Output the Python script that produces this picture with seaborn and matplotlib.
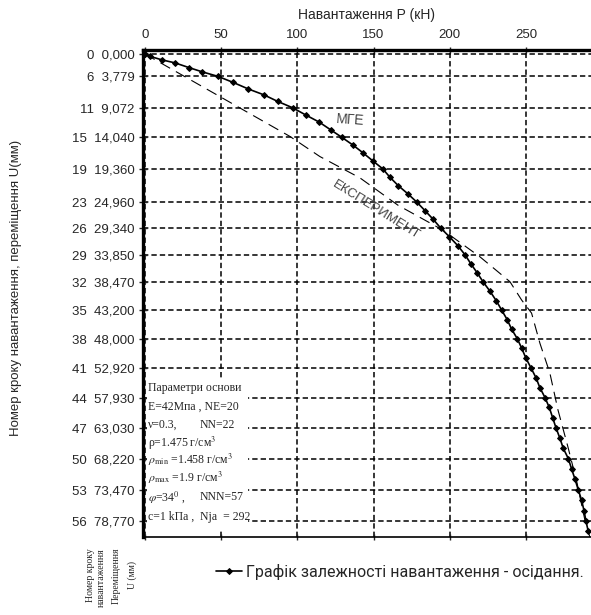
import matplotlib
matplotlib.use('Agg')
import pandas as pd
import matplotlib.pyplot as plt
import seaborn as sns
from matplotlib.patches import Rectangle

sns.set_style('white')
plt.rcParams['font.family'] = ['Liberation Sans', 'DejaVu Sans']
plt.rcParams['mathtext.fontset'] = 'stix'

# Load step numbers and displacement U (mm) shown on the vertical axis
tick_steps = [0, 6, 11, 15, 19, 23, 26, 29, 32, 35, 38, 41, 44, 47, 50, 53, 56]
tick_u = [0.0, 3.779, 9.072, 14.04, 19.36, 24.96, 29.34, 33.85, 38.47, 43.2,
          48.0, 52.92, 57.93, 63.03, 68.22, 73.47, 78.77]
tick_text = ['0,000', '3,779', '9,072', '14,040', '19,360', '24,960', '29,340',
             '33,850', '38,470', '43,200', '48,000', '52,920', '57,930',
             '63,030', '68,220', '73,470', '78,770']
load_ticks = [0, 50, 100, 150, 200, 250]

# MGE curve, one point per load step
mge_p = [0, 3.3, 11.2, 19.7, 28.9, 37.4, 47.9, 57.9, 67.8, 78.1, 87.1, 96.9,
         105.6, 114.4, 121.9, 129.1, 136.7, 143.2, 149.4, 156.0, 160.8, 166.2,
         172.6, 178.3, 183.7, 189.2, 194.0, 199.7, 205.2, 210.0, 213.9, 218.0,
         222.0, 226.4, 230.5, 234.1, 237.7, 240.6, 244.3, 247.2, 250.0, 253.3,
         256.6, 259.2, 262.5, 265.3, 267.5, 269.7, 272.3, 274.5, 277.8, 280.0,
         282.2, 284.3, 286.5, 288.1, 289.4, 290.9]
mge_u = [0, 0.4, 1.0, 1.5, 2.3, 3.0, 3.779, 4.8, 5.9, 6.9, 8.0, 9.072,
         10.3, 11.5, 12.8, 14.04, 15.4, 16.7, 18.0, 19.36, 20.8, 22.2,
         23.6, 24.96, 26.4, 27.9, 29.34, 30.8, 32.3, 33.85, 35.4, 36.9,
         38.47, 40.0, 41.6, 43.2, 44.8, 46.4, 48.0, 49.6, 51.3, 52.92,
         54.6, 56.3, 57.93, 59.6, 61.3, 63.03, 64.8, 66.5, 68.22, 70.0,
         71.7, 73.47, 75.2, 77.0, 78.77, 80.5]

# experiment curve (dashed)
exp_p = [0, 95.1, 114.8, 141.1, 166.0, 195.5, 219.8, 239.5, 247.2, 253.7,
         259.2, 265.7, 271.0, 277.6, 283.5, 288.7, 292.0]
exp_u = [0, 13.9, 17.3, 20.9, 25.5, 29.7, 34.2, 38.4, 41.5, 43.7,
         48.8, 53.8, 60.0, 66.3, 72.3, 78.6, 81.5]

mge = pd.DataFrame({'P': mge_p, 'U': mge_u})
exp = pd.DataFrame({'P': exp_p, 'U': exp_u})

fig = plt.figure(figsize=(5.91, 6.15), dpi=100)
ax = fig.add_axes([143 / 591, 1 - 537 / 615, 448 / 591, 487 / 615])

sns.lineplot(data=exp, x='P', y='U', sort=False, estimator=None, ax=ax,
             color='black', linewidth=0.8, linestyle=(0, (10, 6)))
sns.lineplot(data=mge, x='P', y='U', sort=False, estimator=None, ax=ax,
             color='black', linewidth=1.2, marker='D', markersize=3,
             markeredgecolor='black',
             label='Графік залежності навантаження - осідання.')

ax.set_xlim(-1.3, 292.7)
ax.set_ylim(81.45, -0.67)
ax.set_xlabel('')
ax.set_ylabel('')

ax.set_xticks(load_ticks)
ax.set_yticks(tick_u)
ax.set_yticklabels([f'{s}  {t}' for s, t in zip(tick_steps, tick_text)])
ax.tick_params(axis='x', top=True, bottom=True, labeltop=True, labelbottom=False,
               direction='inout', length=5, width=1, labelsize=9.5, pad=4)
ax.tick_params(axis='y', left=True, direction='inout', length=6, width=1,
               labelsize=9.5, pad=3)

ax.set_axisbelow(True)
ax.grid(True, color='black', linestyle=(0, (3.5, 2)), linewidth=1.1)

for side in ['left', 'top']:
    ax.spines[side].set_linewidth(2.4)
    ax.spines[side].set_color('black')
ax.spines['bottom'].set_linewidth(1.2)
ax.spines['bottom'].set_color('black')
ax.spines['right'].set_visible(False)

# white panel with soil parameters
ax.add_patch(Rectangle((1.5, 54.6), 66, 25.5, facecolor='white',
                       edgecolor='none', zorder=1.5))
serif = ['Liberation Serif', 'DejaVu Serif']
params_left = ['Параметри основи', 'E=42Мпа , NE=20', 'ν=0.3,', 'ρ=1.475 г/см$^3$',
               r'$\rho_{\min}$ =1.458 г/см$^3$', r'$\rho_{\max}$ =1.9 г/см$^3$',
               r'$\varphi$=34$^0$ ,', 'c=1 kПа ,']
params_right = ['', '', 'NN=22', '', '', '', 'NNN=57', 'Nja  = 292']
params_u = [56.3, 59.4, 62.6, 65.6, 68.5, 71.5, 74.7, 78.1]
for left, right, u in zip(params_left, params_right, params_u):
    ax.text(2.0, u, left, family=serif, fontsize=8.5, va='center', ha='left', zorder=3)
    if right:
        ax.text(36.0, u, right, family=serif, fontsize=8.5, va='center',
                ha='left', zorder=3)

# curve labels
ax.text(135.0, 11.2, 'МГЕ', fontsize=10, color='#444444', ha='center',
        va='center', rotation=-4)
ax.text(151.5, 26.4, 'ЕКСПЕРИМЕНТ', fontsize=9.5, color='#444444', ha='center',
        va='center', rotation=-32)

# axis titles
fig.text(367 / 591, 1 - 15 / 615, 'Навантаження P (кН)', fontsize=10,
         ha='center', va='center')
fig.text(16 / 591, 1 - 288 / 615, 'Номер кроку навантаження, переміщення U(мм)',
         fontsize=9.5, rotation=90, ha='center', va='center')

# column headers under the tick labels
fig.text(90 / 591, 1 - 548 / 615, 'Номер кроку', family=serif, fontsize=7,
         rotation=90, ha='center', va='top')
fig.text(101 / 591, 1 - 548 / 615, 'навантаження', family=serif, fontsize=7,
         rotation=90, ha='center', va='top')
fig.text(116 / 591, 1 - 548 / 615, 'Переміщення', family=serif, fontsize=7,
         rotation=90, ha='center', va='top')
fig.text(132 / 591, 1 - 575 / 615, 'U (мм)', family=serif, fontsize=7,
         rotation=90, ha='center', va='center')

ax.legend(loc='center left', bbox_to_anchor=(216 / 591, 1 - 572 / 615),
          bbox_transform=fig.transFigure, frameon=False, borderpad=0,
          borderaxespad=0, handlelength=1.6, handletextpad=0.3,
          prop={'family': ['Roboto', 'DejaVu Sans'], 'size': 11.5})

fig.savefig('out.png', dpi=100)
